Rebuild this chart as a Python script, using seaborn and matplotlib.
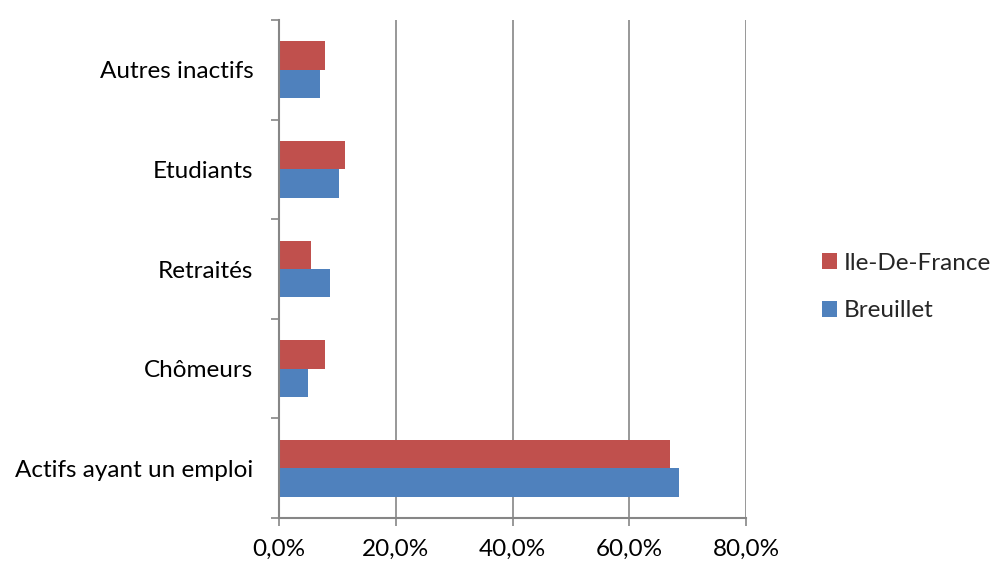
import matplotlib
matplotlib.use("Agg")
import matplotlib.pyplot as plt
from matplotlib.ticker import FixedLocator, FuncFormatter
from matplotlib.patches import Patch
import seaborn as sns
import pandas as pd

# Catégories, de haut en bas
categories = ["Autres inactifs", "Etudiants", "Retraités", "Chômeurs", "Actifs ayant un emploi"]
series_names = ["Ile-De-France", "Breuillet"]
ile_de_france = [7.8, 11.3, 5.5, 7.9, 67.0]
breuillet = [7.1, 10.3, 8.8, 4.9, 68.5]
x_ticks = [0, 20, 40, 60, 80]

colors = {"Ile-De-France": "#C0504D", "Breuillet": "#4F81BD"}

df = pd.DataFrame({
    "categorie": categories * 2,
    "serie": [series_names[0]] * len(categories) + [series_names[1]] * len(categories),
    "valeur": ile_de_france + breuillet,
})

sns.set_style("white")
plt.rcParams["font.family"] = ["Lato", "DejaVu Sans"]
FS = 17.5

fig = plt.figure(figsize=(9.91, 5.63), dpi=100)
ax = fig.add_axes([279 / 991, 1 - 518 / 563, (746 - 279) / 991, (518 - 20) / 563])

sns.barplot(data=df, x="valeur", y="categorie", hue="serie", order=categories,
            hue_order=series_names, palette=colors, width=0.57, orient="h",
            saturation=1, ax=ax, legend=False, edgecolor="none", linewidth=0)

ax.set_xlim(0, 80)
ax.set_ylim(4.5, -0.5)
ax.set_xlabel("")
ax.set_ylabel("")

# Grille verticale
ax.xaxis.set_major_locator(FixedLocator(x_ticks))
ax.xaxis.set_major_formatter(FuncFormatter(lambda v, p: f"{v:.1f}%".replace(".", ",")))
for v in x_ticks[1:]:
    ax.axvline(v, color="#868686", linewidth=1.2, zorder=0)

for s in ["top", "right"]:
    ax.spines[s].set_visible(False)
for s in ["left", "bottom"]:
    ax.spines[s].set_color("#868686")
    ax.spines[s].set_linewidth(1.5)

ax.tick_params(axis="x", which="major", direction="out", length=6, width=1.2,
               color="#868686", labelsize=FS, pad=9, labelcolor="black", bottom=True)
ax.tick_params(axis="y", which="major", length=0, labelsize=FS, pad=18.5, labelcolor="black")
ax.yaxis.set_minor_locator(FixedLocator([-0.5, 0.5, 1.5, 2.5, 3.5, 4.5]))
ax.tick_params(axis="y", which="minor", direction="out", length=6, width=1.2,
               color="#868686", left=True)

handles = [Patch(facecolor=colors[n], edgecolor="none", label=n) for n in series_names]
fig.legend(handles=handles, loc="center left", bbox_to_anchor=(810 / 991, 1 - 287 / 563),
           frameon=False, fontsize=FS, handlelength=0.6, handleheight=0.6,
           handletextpad=0.3, labelspacing=1.1, borderpad=0)

fig.savefig("out.png", dpi=100)
